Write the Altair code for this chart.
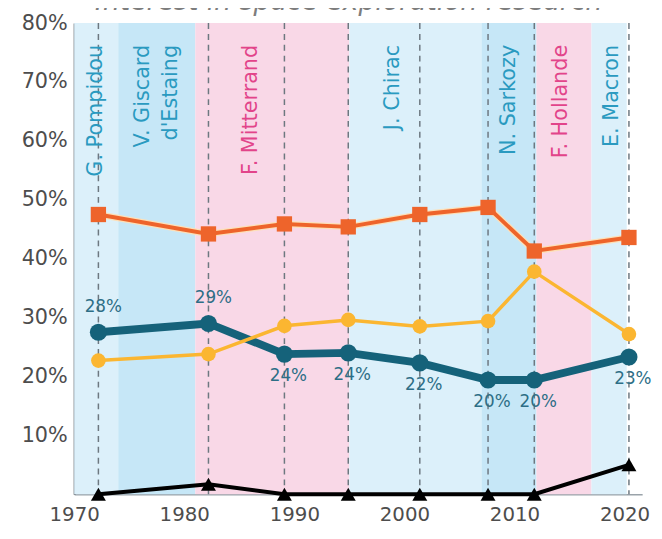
import altair as alt
import pandas as pd

# Survey years and series values (%)
years = [1972.2, 1982.2, 1989.1, 1994.9, 2001.4, 2007.6, 2011.8, 2020.4]
orange_vals = [47.5, 44.2, 45.9, 45.4, 47.5, 48.7, 41.3, 43.6]
yellow_vals = [22.7, 23.8, 28.6, 29.6, 28.5, 29.4, 37.8, 27.2]
teal_vals = [27.5, 29.0, 23.8, 24.0, 22.3, 19.4, 19.4, 23.3]
black_vals = [0, 1.7, 0, 0, 0, 0, 0, 5.0]
teal_labels = ["28%", "29%", "24%", "24%", "22%", "20%", "20%", "23%"]

# Presidential terms
term_names = ["G. Pompidou", "V. Giscard d'Estaing", "F. Mitterrand", "J. Chirac",
              "N. Sarkozy", "F. Hollande", "E. Macron"]
term_start = [1970, 1974, 1981, 1995, 2007, 2012, 2017]
term_end = [1974, 1981, 1995, 2007, 2012, 2017, 2020.2]
term_tone = ["light", "mid", "pink", "light", "mid", "pink", "light"]

label_text = ["G. Pompidou", "V. Giscard", "d'Estaing", "F. Mitterrand", "J. Chirac",
              "N. Sarkozy", "F. Hollande", "E. Macron"]
label_year = [1972.0, 1976.3, 1978.8, 1986.1, 1999.0, 2009.5, 2014.2, 2018.9]
label_side = ["right", "right", "right", "left", "right", "right", "left", "right"]

y_ticks = [10, 20, 30, 40, 50, 60, 70, 80]
x_ticks = [1970, 1980, 1990, 2000, 2010, 2020]
title_text = "Interest in space exploration research"

W, H = 575, 477

bands = pd.DataFrame({"name": term_names, "start": term_start, "end": term_end, "tone": term_tone})
labels = pd.DataFrame({"text": label_text, "year": label_year, "side": label_side})
series = pd.DataFrame({
    "year": years,
    "orange": orange_vals,
    "yellow": yellow_vals,
    "teal": teal_vals,
    "black": black_vals,
    "label": teal_labels,
})

xs = alt.Scale(domain=[1970, 2021.6], nice=False, zero=False)
ys = alt.Scale(domain=[0, 80], nice=False, zero=True)

band_layer = alt.Chart(bands).mark_rect().encode(
    x=alt.X("start:Q", scale=xs, axis=alt.Axis(
        values=x_ticks, format="d", title=None, ticks=False, grid=False,
        labelFont="DejaVu Sans", labelFontSize=20, labelColor="#4d4d4d", labelPadding=11,
        domainColor="#9aa3aa", domainWidth=1.5, labelFlush=False)),
    x2="end:Q",
    y=alt.Y("top:Q", scale=ys, axis=alt.Axis(
        values=y_ticks, labelExpr="datum.value + '%'", title=None, ticks=False, grid=False,
        labelFont="DejaVu Sans", labelFontSize=21, labelColor="#4d4d4d", labelPadding=7,
        domainColor="#505860", domainWidth=2)),
    y2="bottom:Q",
    color=alt.Color("tone:N", scale=alt.Scale(domain=["light", "mid", "pink"],
                                              range=["#dcf0fa", "#c6e7f7", "#f9d8e7"]), legend=None),
).transform_calculate(top="80", bottom="0")

rule_layer = alt.Chart(series).mark_rule(strokeDash=[6, 5], color="#6d7880", strokeWidth=1.5).encode(
    x=alt.X("year:Q", scale=xs),
    y=alt.value(0),
    y2=alt.value(H),
)

pres_common = dict(angle=270, align="right", baseline="middle", font="DejaVu Sans", fontSize=21)
pres_blue = alt.Chart(labels).mark_text(color="#2a9ac0", **pres_common).encode(
    x=alt.X("year:Q", scale=xs), y=alt.value(22), text="text:N",
).transform_filter("datum.side == 'right'")
pres_pink = alt.Chart(labels).mark_text(color="#e2448a", **pres_common).encode(
    x=alt.X("year:Q", scale=xs), y=alt.value(22), text="text:N",
).transform_filter("datum.side == 'left'")

y_of = lambda f: alt.Y(f + ":Q", scale=ys)
x_of = lambda: alt.X("year:Q", scale=xs)

black_line = alt.Chart(series).mark_line(color="#000000", strokeWidth=4).encode(x=x_of(), y=y_of("black"))
black_pts = alt.Chart(series).mark_point(shape="triangle-up", filled=True, size=230, color="#000000", opacity=1).encode(
    x=x_of(), y=y_of("black"))

teal_line = alt.Chart(series).mark_line(color="#15627a", strokeWidth=8).encode(x=x_of(), y=y_of("teal"))
teal_pts = alt.Chart(series).mark_point(shape="circle", filled=True, size=300, color="#15627a", opacity=1).encode(
    x=x_of(), y=y_of("teal"))

yellow_line = alt.Chart(series).mark_line(color="#fbb631", strokeWidth=3.5).encode(x=x_of(), y=y_of("yellow"))
yellow_pts = alt.Chart(series).mark_point(shape="circle", filled=True, size=220, color="#fbb631", opacity=1).encode(
    x=x_of(), y=y_of("yellow"))

orange_halo = alt.Chart(series).mark_line(color="#fde0b8", strokeWidth=6.5).encode(x=x_of(), y=y_of("orange"))
orange_line = alt.Chart(series).mark_line(color="#ee642b", strokeWidth=4).encode(x=x_of(), y=y_of("orange"))
orange_pts = alt.Chart(series).mark_point(shape="square", filled=True, size=240, color="#ee642b", opacity=1).encode(
    x=x_of(), y=y_of("orange"))

lab_common = dict(font="DejaVu Sans", fontSize=17, color="#2d6e86", baseline="middle", align="center")
teal_above = alt.Chart(series).mark_text(dy=-26, dx=5, **lab_common).encode(
    x=x_of(), y=y_of("teal"), text="label:N").transform_filter("datum.year < 1985")
teal_below = alt.Chart(series).mark_text(dy=22, dx=4, **lab_common).encode(
    x=x_of(), y=y_of("teal"), text="label:N").transform_filter("datum.year >= 1985")

title_layer = alt.Chart(pd.DataFrame({"t": [title_text]})).mark_text(
    font="DejaVu Sans", fontSize=27, fontStyle="italic", color="#7d7d7d", align="center", baseline="alphabetic",
).encode(x=alt.value(278), y=alt.value(-13), text="t:N")

chart = alt.layer(
    band_layer, rule_layer, pres_blue, pres_pink,
    black_line, black_pts,
    teal_line, teal_pts,
    yellow_line, yellow_pts,
    orange_halo, orange_line, orange_pts,
    teal_above, teal_below,
    title_layer,
).properties(
    width=W, height=H,
    autosize=alt.AutoSizeParams(type="none"),
    padding={"left": 67, "top": 12, "right": 12, "bottom": 40},
).configure_view(stroke=None)

chart.save("out.html", embed_options={"renderer": "svg", "actions": False})
